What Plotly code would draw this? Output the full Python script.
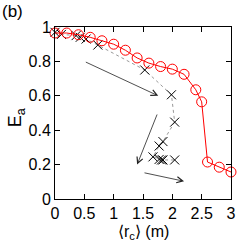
import plotly.graph_objects as go

red_x = [0, 0.2, 0.4, 0.6, 0.8, 1.0, 1.2, 1.4, 1.6, 1.8, 2.0, 2.2, 2.4, 2.5, 2.6, 2.8, 3.0]
red_y = [0.965, 0.965, 0.955, 0.94, 0.92, 0.90, 0.865, 0.82, 0.79, 0.77, 0.755, 0.725, 0.635, 0.565, 0.215, 0.185, 0.157]

blk_x = [0, 0.11, 0.36, 0.43, 0.53, 0.73, 1.53, 1.985, 2.04, 1.84, 1.775, 1.67, 1.775, 1.815, 1.84, 2.04]
blk_y = [0.969, 0.957, 0.95, 0.94, 0.93, 0.895, 0.75, 0.606, 0.447, 0.334, 0.308, 0.245, 0.23, 0.227, 0.227, 0.227]

arrow_tail_x = [0.50, 1.75, 1.50]
arrow_tail_y = [0.80, 0.50, 0.154]
arrow_head_x = [1.76, 1.40, 2.20]
arrow_head_y = [0.60, 0.20, 0.103]

x_ticks = [0, 0.5, 1, 1.5, 2, 2.5, 3]
x_tick_labels = ["0", "0.5", "1", "1.5", "2", "2.5", "3"]
y_ticks = [0, 0.2, 0.4, 0.6, 0.8, 1]
y_tick_labels = ["0", "0.2", "0.4", "0.6", "0.8", "1"]

FONT = "Liberation Sans, Arial, Helvetica, sans-serif"

fig = go.Figure()
fig.add_trace(go.Scatter(
    x=blk_x, y=blk_y, mode="lines+markers",
    line=dict(color="#999999", width=1, dash="dot"),
    marker=dict(symbol="x-thin-open", size=9, line=dict(color="black", width=1), color="black"),
    showlegend=False, cliponaxis=False,
))
fig.add_trace(go.Scatter(
    x=red_x, y=red_y, mode="lines+markers",
    line=dict(color="#ff0000", width=1),
    marker=dict(symbol="circle-open", size=10, line=dict(color="#ff0000", width=1), color="#ff0000"),
    showlegend=False, cliponaxis=False,
))

for tx, ty, hx, hy in zip(arrow_tail_x, arrow_tail_y, arrow_head_x, arrow_head_y):
    fig.add_annotation(
        x=hx, y=hy, ax=tx, ay=ty, xref="x", yref="y", axref="x", ayref="y",
        showarrow=True, arrowhead=5, arrowsize=1.5, arrowwidth=0.8, arrowcolor="#222222",
        text="",
    )

# panel label and axis titles
fig.add_annotation(
    text="(b)", x=0, y=1, xref="paper", yref="paper", xshift=-55, yshift=27,
    showarrow=False, xanchor="left", yanchor="top",
    font=dict(family=FONT, size=17, color="black"),
)
fig.add_annotation(
    text="⟨r<sub>c</sub>⟩ (m)", x=0.5, y=0, xref="paper", yref="paper", yshift=-22,
    showarrow=False, xanchor="center", yanchor="top",
    font=dict(family=FONT, size=16, color="black"),
)
fig.add_annotation(
    text="E<sub>a</sub>", x=0, y=0.47, xref="paper", yref="paper", xshift=-39,
    showarrow=False, xanchor="center", yanchor="middle", textangle=-90,
    font=dict(family=FONT, size=18, color="black"),
)

fig.update_layout(
    width=245, height=245,
    margin=dict(l=55, r=14, t=27, b=46),
    paper_bgcolor="white", plot_bgcolor="white",
    font=dict(family=FONT, size=16, color="black"),
)

fig.update_xaxes(
    range=[0, 3], tickvals=x_ticks, ticktext=x_tick_labels,
    ticks="inside", ticklen=5, tickwidth=1, tickcolor="black",
    showline=True, linecolor="black", linewidth=1, mirror="ticks",
    showgrid=False, zeroline=False, automargin=False,
    tickfont=dict(size=16),
)
fig.update_yaxes(
    range=[0, 1], tickvals=y_ticks, ticktext=y_tick_labels,
    ticks="inside", ticklen=5, tickwidth=1, tickcolor="black",
    showline=True, linecolor="black", linewidth=1, mirror="ticks",
    showgrid=False, zeroline=False, automargin=False,
    tickfont=dict(size=16),
)

fig.write_html(
    "out.html",
    config={"displayModeBar": False, "staticPlot": True},
    post_script="document.body.style.margin='0';document.body.style.padding='0';",
)
